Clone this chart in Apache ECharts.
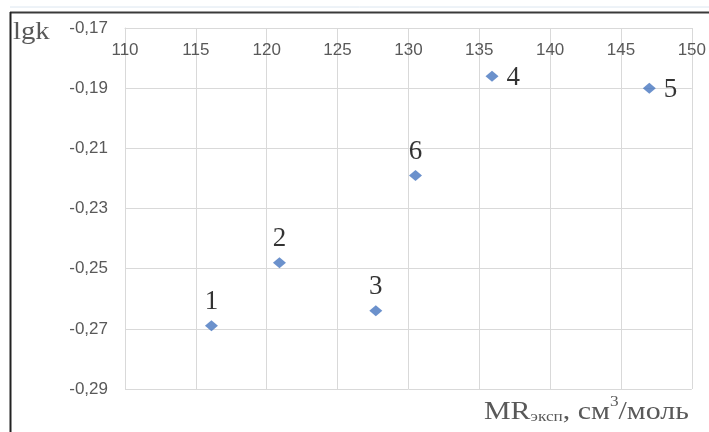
<!DOCTYPE html>
<html>
<head>
<meta charset="utf-8">
<style>
  html, body { margin: 0; padding: 0; background: #fff; }
  #chart { width: 709px; height: 432px; }
</style>
<script src="https://cdn.jsdelivr.net/npm/echarts@6/dist/echarts.min.js"></script>
</head>
<body>
<div id="chart"></div>
<script>
// Molar refraction vs. lgk for six compounds
const mrValues  = [116.1, 120.9, 127.7, 135.9, 147.0, 130.5];
const lgkValues = [-0.269, -0.248, -0.264, -0.186, -0.190, -0.219];
const pointNames = ['1', '2', '3', '4', '5', '6'];

const xTicks = { min: 110, max: 150, step: 5 };
const yTicks = { min: -0.29, max: -0.17, step: 0.02 };

const chart = echarts.init(document.getElementById('chart'), null, { renderer: 'canvas' });

const gridColor = '#d9d9d9';
const tickColor = '#595959';
const tickFont = '"Liberation Sans", Arial, sans-serif';
const serif = '"Liberation Serif", "Times New Roman", serif';

// points 4 and 5 carry their numbers to the right, the others above
const labelRight = new Set(['4', '5']);

const points = pointNames.map((name, i) => ({
  value: [mrValues[i], lgkValues[i]],
  name: name,
  label: labelRight.has(name)
    ? { position: 'right', distance: 8, offset: [0, 2] }
    : { position: 'top', distance: 5 }
}));

chart.setOption({
  animation: false,
  backgroundColor: '#fff',
  grid: { left: 125, top: 28, right: 17, bottom: 43, containLabel: false },
  xAxis: {
    type: 'value',
    position: 'top',
    min: xTicks.min, max: xTicks.max, interval: xTicks.step,
    axisLine: { show: true, lineStyle: { color: gridColor, width: 1 } },
    axisTick: { show: false },
    splitLine: { show: true, lineStyle: { color: gridColor, width: 1 } },
    axisLabel: {
      inside: true, margin: 14,
      color: tickColor, fontFamily: tickFont, fontSize: 17
    }
  },
  yAxis: {
    type: 'value',
    min: yTicks.min, max: yTicks.max, interval: yTicks.step,
    axisLine: { show: true, lineStyle: { color: gridColor, width: 1 } },
    axisTick: { show: false },
    splitLine: { show: true, lineStyle: { color: gridColor, width: 1 } },
    axisLabel: {
      margin: 17,
      color: tickColor, fontFamily: tickFont, fontSize: 17,
      formatter: v => v.toFixed(2).replace('.', ',')
    }
  },
  series: [{
    type: 'scatter',
    symbol: 'diamond',
    symbolSize: [13, 11],
    itemStyle: { color: '#4676bf' },
    data: points,
    label: {
      show: true,
      formatter: p => p.name,
      color: '#000',
      fontFamily: serif,
      fontSize: 27
    }
  }],
  graphic: [
    // frame lines
    { type: 'line', shape: { x1: 10, y1: 7, x2: 709, y2: 7 }, style: { stroke: '#dce6f0', lineWidth: 1 } },
    { type: 'line', shape: { x1: 10, y1: 12.5, x2: 709, y2: 12.5 }, style: { stroke: '#3a3a3a', lineWidth: 2 } },
    { type: 'line', shape: { x1: 10.5, y1: 12, x2: 10.5, y2: 432 }, style: { stroke: '#222', lineWidth: 2 } },
    // axis titles
    {
      type: 'text', x: 13, y: 20, scaleX: 1.15,
      style: { text: 'lgk', fill: tickColor, font: '25px ' + serif }
    },
    {
      type: 'text', x: 484, y: 395, scaleX: 1.15,
      style: {
        text: '{a|MR}{s|эксп}{a|, см}{p|3}{a|/моль}',
        fill: tickColor,
        rich: {
          a: { fontFamily: serif, fontSize: 26, fill: tickColor, verticalAlign: 'bottom', lineHeight: 30 },
          s: { fontFamily: serif, fontSize: 15, fill: tickColor, verticalAlign: 'bottom', lineHeight: 10 },
          p: { fontFamily: serif, fontSize: 15, fill: tickColor, verticalAlign: 'top', lineHeight: 26 }
        }
      }
    }
  ]
});
</script>
</body>
</html>
